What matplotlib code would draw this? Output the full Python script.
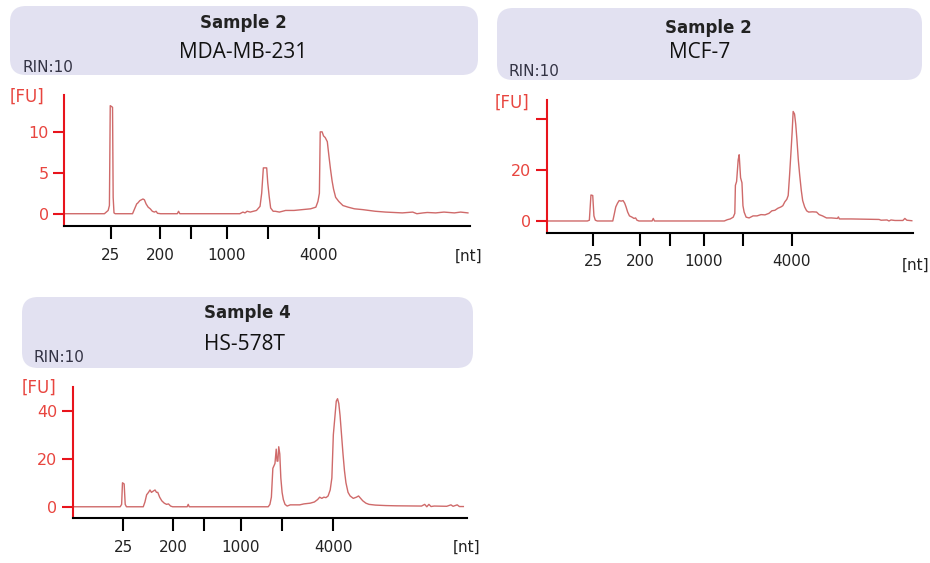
import matplotlib.pyplot as plt
from matplotlib.patches import FancyBboxPatch

plt.rcParams['font.family'] = ['DejaVu Sans']

# ladder positions (migration units, 25 nt -> 0, 4000 nt -> 100)
tick_pos = [0, 23.6, 38.5, 55.8, 75.5, 100]
tick_lab = ['25', '200', '', '1000', '', '4000']

# MDA-MB-231 trace (time, FU)
mda_t = [-22.4, -3, -1.2, -0.6, -0.2, 0.9, 1.2, 1.6, 2.2, 10.5, 11.5, 12.5, 13.0, 14.0,
         15.5, 16.2, 17.0, 18.0, 19.0, 20.0, 21.0, 21.8, 22.5, 24, 32, 32.6, 33.2, 62,
         63.5, 64.5, 65.5, 67, 70, 71.7, 72.5, 73.3, 74.9, 75.4, 76.1, 76.8, 78, 79, 81,
         84, 88, 92, 96, 98.5, 99.5, 100.2, 100.6, 101.5, 102.2, 103.0, 104.0, 104.8,
         105.5, 106.3, 107.0, 108.0, 109.5, 111.5, 114, 117, 121, 124, 127, 132, 140,
         145, 147, 150, 152, 156, 160, 165, 168, 171.5]
mda_fu = [0, 0, 0.4, 1.0, 13.2, 13.0, 2.0, 0.1, 0, 0, 0.6, 1.2, 1.3, 1.6,
          1.8, 1.7, 1.2, 0.8, 0.6, 0.3, 0.2, 0.3, 0.05, 0, 0, 0.3, 0, 0,
          0.2, 0.1, 0.3, 0.2, 0.4, 0.9, 2.5, 5.6, 5.6, 3.8, 2.1, 0.7, 0.3, 0.3, 0.2,
          0.4, 0.4, 0.5, 0.6, 0.8, 1.5, 2.5, 10.0, 10.0, 9.5, 9.3, 8.8, 7.0,
          5.5, 4.0, 3.0, 2.0, 1.5, 1.0, 0.8, 0.6, 0.5, 0.4, 0.3, 0.2, 0.1,
          0.2, 0.0, 0.1, 0.15, 0.1, 0.2, 0.1, 0.2, 0.1]

# MCF-7 trace
mcf_t = [-23.5, -3, -2, -1.2, -0.3, 0.3, 1.0, 2.0, 9.8, 10.5, 11.3, 12.2, 13.0, 14.0,
         15.0, 15.8, 16.5, 17.3, 18.2, 19.5, 20.5, 21.3, 22.0, 23.0, 29.6, 30.2, 30.8,
         66.0, 67.5, 69.0, 70.5, 71.3, 71.6, 72.2, 73.0, 73.5, 74.2, 74.9, 75.4, 76.0,
         77.0, 78.5, 80.5, 82.5, 84.5, 86.5, 88.5, 90.0, 91.5, 93.0, 94.5, 95.5, 96.5,
         97.5, 98.2, 98.9, 99.6, 100.2, 100.7, 101.4, 102.0, 102.6, 103.3, 104.0, 104.8,
         105.5, 106.5, 107.5, 108.5, 110.5, 112.5, 113.8, 115.5, 117.5, 120.0, 123.0,
         123.5, 124.0, 130, 144, 145, 148, 149, 150, 152, 156, 157, 158, 160.5]
mcf_fu = [0, 0, 0.3, 10.2, 10.0, 2, 0.3, 0, 0, 2.5, 5.5, 7.0, 8.0, 7.8,
          8.0, 7.0, 5.5, 3.5, 2.0, 1.5, 1.0, 1.2, 0.3, 0, 0, 1.0, 0,
          0, 0.5, 0.8, 1.5, 3.0, 14.0, 15.5, 24.0, 26.0, 17.0, 15.0, 6.0, 3.5,
          1.5, 1.2, 2.0, 2.0, 2.5, 2.4, 3.0, 4.0, 4.2, 5.0, 5.5, 6.0, 7.5,
          8.5, 10.0, 18.0, 27.0, 35.0, 43.0, 42.0, 38.0, 32.0, 24.0, 18.0, 12.0,
          8.0, 5.5, 4.0, 3.5, 3.6, 3.5, 2.5, 2.0, 1.2, 1.2, 1.0,
          1.6, 0.8, 0.8, 0.6, 0.3, 0.4, 0.0, 0.4, 0.2, 0.2, 1.0, 0.3, 0.1]

# HS-578T trace
hs_t = [-24.1, -1.5, -0.8, -0.4, 0.4, 0.9, 1.5, 9.5, 10.3, 11.1, 12.0, 12.7, 13.4, 14.2,
        15.1, 15.8, 16.4, 17.3, 18.3, 19.5, 20.6, 21.5, 22.5, 23.5, 30.4, 30.9, 31.4,
        69.0, 69.8, 70.5, 71.2, 72.2, 72.8, 73.2, 73.6, 74.0, 74.5, 75.0, 75.6, 76.2,
        77.0, 78.0, 79.5, 84.0, 86.0, 89.0, 91.0, 92.5, 93.5, 94.5, 95.5, 96.5, 97.5,
        98.5, 99.3, 100.0, 100.8, 101.4, 102.0, 102.6, 103.2, 103.9, 104.6, 105.3,
        106.0, 107.0, 108.0, 109.5, 111.0, 112.0, 113.0, 114.0, 115.5, 117.0, 120,
        125, 130, 142, 143.5, 144.5, 145.5, 146.5, 148, 154, 156, 157, 159, 160, 161.9]
hs_fu = [0, 0, 1, 10.0, 9.5, 1, 0, 0, 2, 5, 6, 7, 6, 6.5,
         7, 6, 6, 4, 2.5, 1.5, 1.0, 1.2, 0.3, 0, 0, 1.0, 0,
         0, 1, 4, 16, 18, 24, 19, 19, 25, 22, 12, 6, 3,
         1, 0.3, 0.8, 0.8, 1.2, 1.5, 2.0, 3.0, 4.0, 3.5, 4.0, 3.8, 4.5,
         7, 12, 30, 38, 44, 45, 43, 38, 30, 22, 15,
         10, 6, 4.5, 3.5, 4.0, 4.5, 3.5, 2.5, 1.5, 1.0, 0.7,
         0.5, 0.4, 0.3, 1.0, 0.0, 1.0, 0.1, 0.3, 0.2, 0.8, 0.2, 0.8, 0.1, 0.1]

samples = ['Sample 2', 'Sample 2', 'Sample 4']
cells = ['MDA-MB-231', 'MCF-7', 'HS-578T']

RED = '#e8141c'
LABRED = '#e8453f'
TRACE = '#cf6a6a'

fig = plt.figure(figsize=(9.3, 5.63), dpi=100)
bg = fig.add_axes([0, 0, 1, 1], zorder=0)
bg.set_xlim(0, 930)
bg.set_ylim(563, 0)
bg.axis('off')

# header boxes in pixel coords: (x0, y0, x1, y1)
boxes = [(10, 6, 478, 75), (497, 8, 922, 80), (22, 297, 473, 368)]
title_pos = [((243, 23), (243, 53), (22, 67)),
             ((708, 28), (700, 52), (508, 71)),
             ((247, 313), (244, 345), (33, 357))]
fu_pos = [(10, 97), (495, 103), (22, 388)]
nt_pos = [(455, 256), (902, 265), (453, 547)]

for i, (x0, y0, x1, y1) in enumerate(boxes):
    bg.add_patch(FancyBboxPatch((x0, y0), x1 - x0, y1 - y0,
                                boxstyle='round,pad=0,rounding_size=16',
                                fc='#e2e1f1', ec='none'))
    (sx, sy), (cx, cy), (rx, ry) = title_pos[i]
    bg.text(sx, sy, samples[i], ha='center', va='center', fontsize=12,
            fontweight='bold', color='#222222')
    bg.text(cx, cy, cells[i], ha='center', va='center', fontsize=15,
            family='Open Sans', color='#111111')
    bg.text(rx, ry, 'RIN:10', ha='left', va='center', fontsize=11, color='#333344')
    bg.text(fu_pos[i][0], fu_pos[i][1], '[FU]', ha='left', va='center',
            fontsize=12, color=LABRED)
    bg.text(nt_pos[i][0], nt_pos[i][1], '[nt]', ha='left', va='center',
            fontsize=11, color='#222222')

# axes rectangles in figure fraction
rects = [[64 / 930, 1 - 226 / 563, 406 / 930, 131 / 563],
         [546.7 / 930, 1 - 232.7 / 563, 366.3 / 930, 132.7 / 563],
         [72.7 / 930, 1 - 518.3 / 563, 394 / 930, 131.6 / 563]]
xlims = [(-22.4, 172.5), (-23.5, 161.1), (-24.1, 163.5)]
ylims = [(-1.5, 14.5), (-4.6, 47.5), (-4.8, 50)]
yticks = [[0, 5, 10], [0, 20, 40], [0, 20, 40]]
ylabs = [['0', '5', '10'], ['0', '20', ''], ['0', '20', '40']]
traces = [(mda_t, mda_fu), (mcf_t, mcf_fu), (hs_t, hs_fu)]

for i in range(3):
    ax = fig.add_axes(rects[i], zorder=1)
    ax.patch.set_alpha(0)
    t, fu = traces[i]
    ax.plot(t, fu, color=TRACE, lw=1.0)
    ax.set_xlim(*xlims[i])
    ax.set_ylim(*ylims[i])
    for s in ['top', 'right']:
        ax.spines[s].set_visible(False)
    ax.spines['left'].set_color(RED)
    ax.spines['left'].set_linewidth(1.5)
    ax.spines['bottom'].set_color('black')
    ax.spines['bottom'].set_linewidth(1.5)
    ax.set_xticks(tick_pos)
    ax.set_xticklabels(tick_lab)
    ax.set_yticks(yticks[i])
    ax.set_yticklabels(ylabs[i])
    ax.tick_params(axis='x', direction='out', length=9.5, width=1.5,
                   color='black', labelsize=11, pad=6, labelcolor='#222222')
    ax.tick_params(axis='y', direction='out', length=8, width=1.5,
                   color=RED, labelsize=11.5, pad=3, labelcolor=LABRED)

plt.savefig('out.png', dpi=100)
